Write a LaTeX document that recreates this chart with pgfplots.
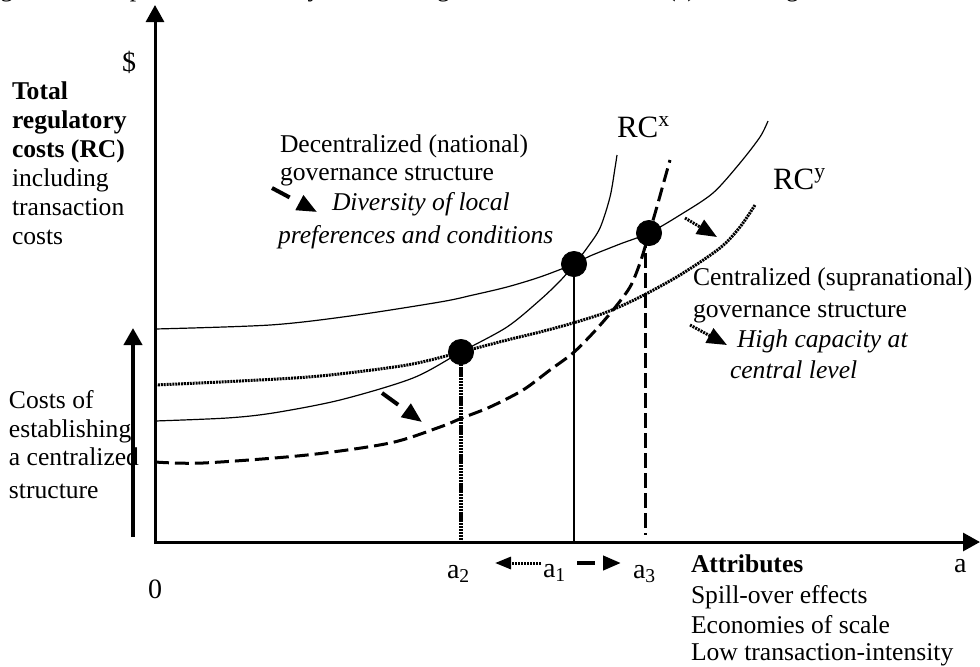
\documentclass[border=0pt]{standalone}
\usepackage{fontspec}
\setmainfont{Liberation Serif}
\usepackage{pgfplots}
\pgfplotsset{compat=1.18}
\usetikzlibrary{arrows.meta}
\newcommand\lbl{\fontsize{14}{16}\selectfont}
\begin{document}
\begin{tikzpicture}[every node/.style={inner sep=0pt, outer sep=0pt, font=\fontsize{12.8}{15}\selectfont}]
\useasboundingbox (0,0) rectangle (490pt,333pt);
\begin{axis}[at={(0,0)}, anchor=south west, scale only axis, width=490pt, height=333pt,
  xmin=0, xmax=980, ymin=0, ymax=666, y dir=reverse, hide axis, clip=false]
% axes
\addplot[line width=1.5pt, -{Triangle[length=8.5pt,width=9pt]}] coordinates {(155,542) (155,5)};
\addplot[line width=1.5pt, -{Triangle[length=8.5pt,width=9pt]}] coordinates {(154.3,542) (980,542)};
% left thick arrow
\addplot[line width=2pt, -{Triangle[length=8.5pt,width=9pt]}] coordinates {(133,537) (133,328)};
% solid upper curve
\addplot[line width=0.6pt, smooth, tension=0.5] coordinates {
(155,329) (270,325) (350,316) (440,302) (473,295) (507,287) (540,277) (574,264) (590,256) (620,244) (649,233) (680,215) (713,193) (740,163) (760,137) (768,121)};
% solid steep curve RCx
\addplot[line width=0.6pt, smooth, tension=0.5] coordinates {
(155,421) (227,418) (273,413) (340,400) (413,378) (461,352) (507,327) (540,300) (560,281) (574,265) (587,248) (600,228) (610,197) (615,168) (617,155)};
% dotted curve
\addplot[line width=1.5pt, dash pattern=on 1pt off 0.45pt, smooth, tension=0.5] coordinates {
(155,385) (240,381) (320,376) (407,365) (461,352) (507,340) (540,332) (573,323) (607,312) (640,297) (680,275) (720,248) (740,227) (755,205)};
% dashed curve
\addplot[line width=1.5pt, dash pattern=on 7pt off 3pt, smooth, tension=0.5] coordinates {
(155,462) (203,463) (307,455) (390,443) (440,427) (462,418) (490,407) (523,390) (550,370) (573,353) (593,333) (613,310) (630,287) (640,263) (648,237) (656,210) (663,185) (670,160)};
% verticals
\addplot[line width=1.8pt, dash pattern=on 1.1pt off 0.35pt] coordinates {(461,352) (461,541)};
\addplot[line width=0.6pt] coordinates {(574,264) (574,541)};
\addplot[line width=1.5pt, dash pattern=on 7.5pt off 2.5pt] coordinates {(645,233) (645,535)};
% dots
\addplot[only marks, mark=*, mark size=6.3pt] coordinates {(461,352) (574,264) (649,233)};
% small arrows
\addplot[line width=2pt, dash pattern=on 10pt off 20pt, -{Triangle[length=10pt,width=8pt]}] coordinates {(272,188) (317,212)};
\addplot[line width=2pt, dash pattern=on 10pt off 20pt, -{Triangle[length=10pt,width=8pt]}] coordinates {(382,393) (422,422)};
\addplot[line width=1.5pt, dash pattern=on 1pt off 0.5pt, -{Triangle[length=10pt,width=8pt]}] coordinates {(685,218) (717,237)};
\addplot[line width=1.5pt, dash pattern=on 1pt off 0.5pt, -{Triangle[length=10pt,width=8pt]}] coordinates {(690,325) (727,345)};
\addplot[line width=1.5pt, dash pattern=on 1pt off 0.5pt, -{Triangle[length=8pt,width=6pt]}] coordinates {(541,563) (495,563)};
\addplot[line width=2pt, dash pattern=on 9pt off 20pt, -{Triangle[length=9pt,width=7pt]}] coordinates {(577,563) (621,563)};
% title (clipped at top)
\node[anchor=base west] at (-21,-3.5) {Figure 3. Comparative efficiency of the two governance structures (a) level of governance};
% texts left
\node[anchor=base west] at (122,71) {\lbl \$};
\node[anchor=base west] at (12,99) {\bfseries Total};
\node[anchor=base west] at (12,128) {\bfseries regulatory};
\node[anchor=base west] at (12,157) {\bfseries costs (RC)};
\node[anchor=base west] at (12,186) {including};
\node[anchor=base west] at (12,215) {transaction};
\node[anchor=base west] at (12,244) {costs};
\node[anchor=base west] at (9,408) {Costs of};
\node[anchor=base west] at (9,437) {establishing};
\node[anchor=base west] at (9,465) {a centralized};
\node[anchor=base west] at (9,498) {structure};
\node[anchor=base west] at (148,598) {\lbl 0};
% curve texts
\node[anchor=base west] at (280,152) {Decentralized (national)};
\node[anchor=base west] at (280,180) {governance structure};
\node[anchor=base west] at (332,210) {\itshape Diversity of local};
\node[anchor=base west] at (278,243) {\itshape preferences and conditions};
\node[anchor=base west] at (617,137) {\fontsize{15.5}{17}\selectfont RC\textsuperscript{x}};
\node[anchor=base west] at (773,189) {\fontsize{15.5}{17}\selectfont RC\textsuperscript{y}};
\node[anchor=base west] at (693,285) {Centralized (supranational)};
\node[anchor=base west] at (693,317) {governance structure};
\node[anchor=base west] at (737,347) {\itshape High capacity at};
\node[anchor=base west] at (730,378) {\itshape central level};
% x labels
\node[anchor=base west] at (447,578) {\lbl a\textsubscript{2}};
\node[anchor=base west] at (543,577) {\lbl a\textsubscript{1}};
\node[anchor=base west] at (633,578) {\lbl a\textsubscript{3}};
\node[anchor=base west] at (954,572) {\lbl a};
\node[anchor=base west] at (691,572) {\bfseries Attributes};
\node[anchor=base west] at (691,603) {Spill-over effects};
\node[anchor=base west] at (691,633) {Economies of scale};
\node[anchor=base west] at (691,660) {Low transaction-intensity};
\end{axis}
\end{tikzpicture}
\end{document}
